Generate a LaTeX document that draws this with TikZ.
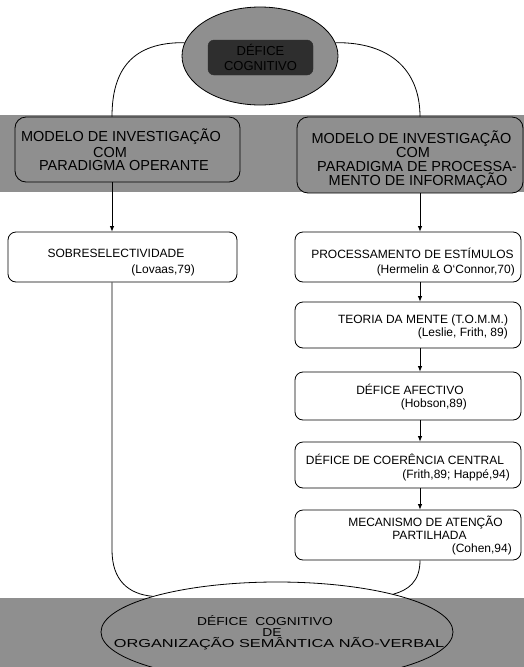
\documentclass[tikz,border=0pt]{standalone}
\usepackage{fontspec}
\usepackage{graphicx}
\setmainfont{Liberation Sans}
\usetikzlibrary{arrows.meta,shapes.geometric}

\definecolor{bandgray}{gray}{0.56}
\definecolor{coregray}{gray}{0.18}

\tikzset{
  flowbox/.style={draw, rounded corners=8pt, line width=0.8pt, fill=white, inner sep=0pt},
  bandbox/.style={draw, rounded corners=11pt, line width=0.8pt, fill=bandgray, inner sep=0pt},
  link/.style={line width=0.8pt},
  arr/.style={line width=0.8pt, -{Latex[length=5.5pt,width=4.5pt]}},
  txt/.style={font=\fontsize{12}{13}\selectfont, inner sep=0pt, anchor=base},
  cite/.style={font=\fontsize{12}{13}\selectfont, inner sep=0pt, anchor=base east},
  head/.style={font=\fontsize{14.5}{15}\selectfont, inner sep=0pt, anchor=base},
  foot/.style={font=\fontsize{11.5}{12}\selectfont, inner sep=0pt, anchor=base},
}

\begin{document}
\begin{tikzpicture}[x=1pt,y=-1pt]
\clip (0,0) rectangle (524,667);
\useasboundingbox (0,0) rectangle (524,667);

% shaded bands
\fill[bandgray] (0,115) rectangle (524,192);
\fill[bandgray] (0,598) rectangle (524,667);

% column guides
\coordinate (lx) at (112,0);
\coordinate (rx) at (420,0);

% top node
\node[ellipse, draw, line width=0.8pt, fill=bandgray, minimum width=156pt, minimum height=98pt, inner sep=0pt] (top) at (260,56) {};
\node[draw=coregray, fill=coregray, rounded corners=6pt, minimum width=105pt, minimum height=35pt, inner sep=0pt,
      align=center, font=\fontsize{13}{15}\selectfont, text=black] (core) at (260.5,57.5) {DÉFICE\\COGNITIVO};

% research models
\node[bandbox, minimum width=225pt, minimum height=65pt] (modL) at (127.5,149.5) {};
\node[bandbox, minimum width=226pt, minimum height=76pt] (modR) at (410,155) {};

\node[head] (modL1) at (121,141) {MODELO DE INVESTIGAÇÃO};
\node[head] (modL2) at (110,157) {COM};
\node[head] (modL3) at (124,170) {PARADIGMA OPERANTE};

\node[head] (modR1) at (411.5,143) {MODELO DE INVESTIGAÇÃO};
\node[head] (modR2) at (413,157) {COM};
\node[head] (modR3) at (417,171) {PARADIGMA DE PROCESSA-};
\node[head] (modR4) at (418,185) {MENTO DE INFORMAÇÃO};

% left column
\node[flowbox, minimum width=229pt, minimum height=50pt] (sobre) at (122.5,257) {};
\node[txt] (sobreT) at (116,257) {SOBRESELECTIVIDADE};
\node[cite] (sobreC) at (195,273) {(Lovaas,79)};

% right column
\node[flowbox, minimum width=226pt, minimum height=50pt] (proc) at (408,257) {};
\node[txt] (procT) at (412.5,258) {PROCESSAMENTO DE ESTÍMULOS};
\node[cite] (procC) at (515,273) {(Hermelin \& O`Connor,70)};

\node[flowbox, minimum width=226pt, minimum height=46pt] (tomm) at (408,325) {};
\node[txt] (tommT) at (423,323) {TEORIA DA MENTE (T.O.M.M.)};
\node[cite] (tommC) at (508,336) {(Leslie, Frith, 89)};

\node[flowbox, minimum width=226pt, minimum height=48pt] (afec) at (408,396) {};
\node[txt] (afecT) at (410,394) {DÉFICE AFECTIVO};
\node[cite] (afecC) at (467,407) {(Hobson,89)};

\node[flowbox, minimum width=226pt, minimum height=46pt] (coer) at (408,465) {};
\node[txt] (coerT) at (405,464) {DÉFICE DE COERÊNCIA CENTRAL};
\node[cite] (coerC) at (510,478) {(Frith,89; Happé,94)};

\node[flowbox, minimum width=226pt, minimum height=50pt] (meca) at (408,535) {};
\node[txt] (mecaT) at (425.5,526) {MECANISMO DE ATENÇÃO};
\node[txt] (mecaT2) at (429.5,539) {PARTILHADA};
\node[cite] (mecaC) at (512,552) {(Cohen,94)};

% bottom node
\node[ellipse, draw, line width=0.8pt, minimum width=352pt, minimum height=100pt, inner sep=0pt] (goal) at (277,632) {};
\node[foot] (goal1) at (265,625) {\scalebox{1.2}[1]{DÉFICE\ \ COGNITIVO}};
\node[foot] (goal2) at (272,636) {\scalebox{1.2}[1]{DE}};
\node[foot] (goal3) at (279,647) {\scalebox{1.42}[1]{ORGANIZAÇÃO SEMÂNTICA NÃO-VERBAL}};

% connectors from the top node
\draw[link] (top.170) .. controls (132,42) and (112,70) .. (modL.north -| lx);
\draw[link] (top.10) .. controls (390,42) and (420,70) .. (modR.north -| rx);

% arrows down the columns
\draw[arr] (modL.south -| lx) -- (sobre.north -| lx);
\draw[arr] (modR.south -| rx) -- (proc.north -| rx);
\draw[arr] (proc.south -| rx) -- (tomm.north -| rx);
\draw[arr] (tomm.south -| rx) -- (afec.north -| rx);
\draw[arr] (afec.south -| rx) -- (coer.north -| rx);
\draw[arr] (coer.south -| rx) -- (meca.north -| rx);

% connectors into the bottom node
\coordinate (bend) at (112,550);
\draw[link] (sobre.south -| lx) -- (bend) .. controls (112,580) and (128,594) .. (goal.164.6);
\draw[link] (meca.south -| rx) .. controls (420,582) and (408,590) .. (goal.18);
\end{tikzpicture}
\end{document}
